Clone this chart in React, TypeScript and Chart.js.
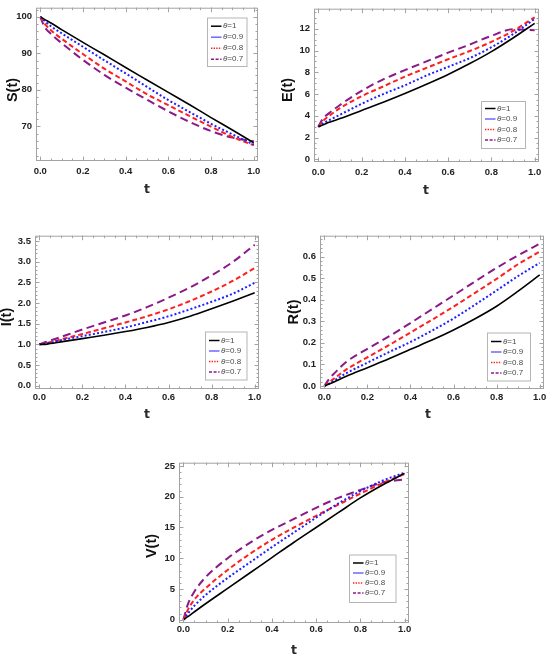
import React, { useEffect, useRef } from "react";
import { Chart, registerables } from "chart.js";

Chart.register(...registerables);

// time grid shared by every panel
const tValues = [0, 0.02, 0.05, 0.1, 0.2, 0.3, 0.4, 0.5, 0.6, 0.7, 0.8, 0.9, 1.0];
const thetaLabels = ["1", "0.9", "0.8", "0.7"];
const xTicks = [0, 0.2, 0.4, 0.6, 0.8, 1.0];

// S(t)
const sTheta1 = [100, 99.3, 98.3, 96.5, 93.0, 89.6, 86.1, 82.7, 79.3, 75.9, 72.4, 69.0, 65.5];
const sTheta09 = [100, 98.9, 97.4, 95.5, 91.8, 88.1, 84.5, 80.8, 77.2, 73.9, 70.7, 67.8, 65.0];
const sTheta08 = [100, 98.2, 96.3, 94.0, 89.8, 85.8, 82.3, 78.8, 75.8, 72.8, 69.9, 67.1, 64.8];
const sTheta07 = [100, 97.3, 95.3, 92.8, 88.2, 84.1, 80.6, 77.3, 74.1, 71.2, 68.7, 66.9, 65.9];
const sTicks = [70, 80, 90, 100];

// E(t)
const eTheta1 = [3, 3.15, 3.4, 3.75, 4.5, 5.25, 6.05, 6.9, 7.8, 8.8, 9.9, 11.15, 12.5];
const eTheta09 = [3, 3.3, 3.6, 4.1, 5.1, 6.0, 6.8, 7.7, 8.5, 9.3, 10.3, 11.5, 12.9];
const eTheta08 = [3, 3.5, 4.0, 4.7, 5.8, 6.7, 7.6, 8.4, 9.2, 9.95, 10.8, 11.8, 13.05];
const eTheta07 = [3, 3.7, 4.25, 5.0, 6.3, 7.35, 8.2, 9.0, 9.8, 10.55, 11.35, 11.95, 11.85];
const eTicks = [0, 2, 4, 6, 8, 10, 12];

// I(t)
const iTheta1 = [1, 1.0, 1.02, 1.06, 1.14, 1.22, 1.31, 1.41, 1.53, 1.68, 1.86, 2.05, 2.25];
const iTheta09 = [1, 1.01, 1.04, 1.1, 1.2, 1.3, 1.41, 1.54, 1.68, 1.85, 2.03, 2.23, 2.49];
const iTheta08 = [1, 1.02, 1.05, 1.12, 1.25, 1.39, 1.53, 1.68, 1.85, 2.05, 2.28, 2.54, 2.85];
const iTheta07 = [1, 1.04, 1.09, 1.18, 1.36, 1.53, 1.7, 1.9, 2.13, 2.38, 2.67, 3.0, 3.41];
const iTicks = [0, 0.5, 1, 1.5, 2, 2.5, 3, 3.5];

// R(t)
const rTheta1 = [0, 0.008, 0.021, 0.044, 0.085, 0.126, 0.17, 0.213, 0.26, 0.312, 0.37, 0.44, 0.515];
const rTheta09 = [0, 0.01, 0.027, 0.058, 0.108, 0.157, 0.204, 0.257, 0.313, 0.377, 0.443, 0.51, 0.571];
const rTheta08 = [0, 0.016, 0.038, 0.075, 0.133, 0.189, 0.248, 0.307, 0.368, 0.432, 0.497, 0.565, 0.623];
const rTheta07 = [0, 0.03, 0.062, 0.11, 0.172, 0.23, 0.292, 0.356, 0.42, 0.485, 0.548, 0.606, 0.66];
const rTicks = [0, 0.1, 0.2, 0.3, 0.4, 0.5, 0.6];

// V(t)
const vTheta1 = [0, 0.5, 1.3, 2.6, 5.1, 7.6, 10.1, 12.6, 15.0, 17.4, 19.8, 21.9, 23.8];
const vTheta09 = [0, 1.0, 2.3, 4.0, 6.8, 9.3, 11.8, 14.2, 16.6, 18.9, 20.9, 22.6, 23.9];
const vTheta08 = [0, 1.6, 3.3, 5.1, 8.1, 10.7, 13.0, 15.0, 16.9, 18.7, 20.5, 22.2, 23.7];
const vTheta07 = [0, 2.5, 4.6, 6.9, 10.0, 12.5, 14.6, 16.4, 18.2, 19.8, 21.1, 22.3, 22.8];
const vTicks = [0, 5, 10, 15, 20, 25];

const lineColors = ["#000000", "#1f1fff", "#ff1f1f", "#8a1a8a"];
const lineWidths = [1.6, 2, 2, 2];
const lineDashes = [[], [2, 2.2], [5, 3], [8, 4.5]];
const legendColors = ["#000000", "rgba(40,40,255,0.75)", "#ff1f1f", "#8a1a8a"];
const legendDashes = [[], [], [1.4, 1.2], [3, 1.6]];

const FONT = "'Liberation Sans', Arial, sans-serif";
const Y_AXIS_W = 38;
const PAD = 8;
const X_AXIS_H = 36;

type Box = { l: number; t: number; r: number; b: number };

interface PanelConfig {
    id: string;
    yTitle: string;
    series: number[][];
    yMin: number;
    yMax: number;
    yTicks: number[];
    yDecimals: number;
    yMinor: number;
    frame: Box;
    yTitlePos: [number, number];
    xTitlePos: [number, number];
    xLabelPad: number;
    legend: Box;
    legendRows: number[];
}

const panels: PanelConfig[] = [
    {
        id: "s", yTitle: "S(t)", series: [sTheta1, sTheta09, sTheta08, sTheta07],
        yMin: 60.5, yMax: 102.5, yTicks: sTicks, yDecimals: 0, yMinor: 2,
        frame: { l: 36, t: 6, r: 258, b: 161 }, yTitlePos: [13, 90], xTitlePos: [147, 190], xLabelPad: 5,
        legend: { l: 207.5, t: 18, r: 247, b: 66.5 }, legendRows: [26.2, 37.2, 48.2, 59.2],
    },
    {
        id: "e", yTitle: "E(t)", series: [eTheta1, eTheta09, eTheta08, eTheta07],
        yMin: -0.24, yMax: 13.84, yTicks: eTicks, yDecimals: 0, yMinor: 0.5,
        frame: { l: 314, t: 7, r: 539, b: 162 }, yTitlePos: [288, 90], xTitlePos: [426, 191], xLabelPad: 4.5,
        legend: { l: 481.5, t: 101.5, r: 525.5, b: 148.5 }, legendRows: [108.5, 119, 129.5, 140],
    },
    {
        id: "i", yTitle: "I(t)", series: [iTheta1, iTheta09, iTheta08, iTheta07],
        yMin: -0.08, yMax: 3.63, yTicks: iTicks, yDecimals: 1, yMinor: 0.1,
        frame: { l: 35, t: 234, r: 259, b: 389 }, yTitlePos: [7, 317], xTitlePos: [147, 415], xLabelPad: 2.5,
        legend: { l: 205.5, t: 332, r: 247, b: 380 }, legendRows: [340.5, 351, 361.5, 372],
    },
    {
        id: "r", yTitle: "R(t)", series: [rTheta1, rTheta09, rTheta08, rTheta07],
        yMin: -0.014, yMax: 0.697, yTicks: rTicks, yDecimals: 1, yMinor: 0.02,
        frame: { l: 320, t: 234, r: 544, b: 389 }, yTitlePos: [294, 312], xTitlePos: [428, 415], xLabelPad: 3,
        legend: { l: 487.5, t: 333, r: 530.5, b: 381 }, legendRows: [341.5, 352, 362.5, 373],
    },
    {
        id: "v", yTitle: "V(t)", series: [vTheta1, vTheta09, vTheta08, vTheta07],
        yMin: -0.53, yMax: 25.53, yTicks: vTicks, yDecimals: 0, yMinor: 1,
        frame: { l: 179, t: 461, r: 409, b: 623 }, yTitlePos: [152, 546], xTitlePos: [294, 651], xLabelPad: 0.5,
        legend: { l: 349.5, t: 555, r: 396, b: 602.5 }, legendRows: [563, 573, 583, 593],
    },
];

const Panel = ({ cfg }: { cfg: PanelConfig }) => {
    const canvasRef = useRef<HTMLCanvasElement | null>(null);
    const left = cfg.frame.l - Y_AXIS_W;
    const top = cfg.frame.t - PAD;
    const width = cfg.frame.r - cfg.frame.l + Y_AXIS_W + PAD;
    const height = cfg.frame.b - cfg.frame.t + PAD + X_AXIS_H;

    useEffect(() => {
        const ctx = canvasRef.current?.getContext("2d");
        if (!ctx) return;

        const framePlugin = {
            id: "mmaFrame",
            afterDraw(chart: any) {
                const c = chart.ctx as CanvasRenderingContext2D;
                const a = chart.chartArea;
                const xs = chart.scales.x;
                const ys = chart.scales.y;
                const seg = (x1: number, y1: number, x2: number, y2: number) => {
                    c.beginPath();
                    c.moveTo(x1, y1);
                    c.lineTo(x2, y2);
                    c.stroke();
                };
                c.save();
                c.strokeStyle = "#a3a3a3";
                c.lineWidth = 1;
                c.setLineDash([]);
                c.strokeRect(a.left + 0.5, a.top + 0.5, a.right - a.left - 1, a.bottom - a.top - 1);

                // inward ticks on all four sides
                const xTick = (v: number, len: number) => {
                    const px = Math.round(xs.getPixelForValue(v)) + 0.5;
                    seg(px, a.bottom, px, a.bottom - len);
                    seg(px, a.top, px, a.top + len);
                };
                const yTick = (v: number, len: number) => {
                    const py = Math.round(ys.getPixelForValue(v)) + 0.5;
                    seg(a.left, py, a.left + len, py);
                    seg(a.right, py, a.right - len, py);
                };
                for (let k = Math.ceil(-0.02 / 0.05); k * 0.05 <= 1.02; k++) xTick(k * 0.05, 2.5);
                xTicks.forEach((v) => xTick(v, 4.5));
                for (let k = Math.ceil(cfg.yMin / cfg.yMinor); k * cfg.yMinor <= cfg.yMax; k++) yTick(k * cfg.yMinor, 2.5);
                cfg.yTicks.forEach((v) => yTick(v, 4.5));

                // legend
                const lb = cfg.legend;
                const bx = lb.l - left;
                const by = lb.t - top;
                c.fillStyle = "#ffffff";
                c.fillRect(bx, by, lb.r - lb.l, lb.b - lb.t);
                c.strokeStyle = "#b5b5b5";
                c.strokeRect(bx, by, lb.r - lb.l, lb.b - lb.t);
                c.textBaseline = "middle";
                c.textAlign = "left";
                cfg.legendRows.forEach((ry, i) => {
                    const y = ry - top;
                    c.strokeStyle = legendColors[i];
                    c.lineWidth = i === 0 ? 1.5 : 1.4;
                    c.setLineDash(legendDashes[i]);
                    seg(bx + 3.5, y, bx + 14, y);
                    c.setLineDash([]);
                    c.fillStyle = "#4a4a4a";
                    c.font = `italic 8px ${FONT}`;
                    c.fillText("θ", bx + 15.5, y);
                    const w = c.measureText("θ").width;
                    c.font = `8px ${FONT}`;
                    c.fillText("=" + thetaLabels[i], bx + 15.5 + w, y);
                });

                // axis titles
                c.fillStyle = "#111111";
                c.textAlign = "center";
                c.textBaseline = "middle";
                c.save();
                c.translate(cfg.yTitlePos[0] - left, cfg.yTitlePos[1] - top);
                c.rotate(-Math.PI / 2);
                c.font = `bold 14.5px ${FONT}`;
                c.fillText(cfg.yTitle, 0, 0);
                c.restore();
                c.font = "bold 12.5px 'DejaVu Sans', sans-serif";
                c.fillStyle = "#2a2a2a";
                c.fillText("t", cfg.xTitlePos[0] - left, cfg.xTitlePos[1] - top);
                c.restore();
            },
        };

        const tickFont = { family: FONT, size: 9.5, weight: "bold" as const };

        const chart = new Chart(ctx, {
            type: "line",
            data: {
                datasets: cfg.series.map((vals, i) => ({
                    label: "θ=" + thetaLabels[i],
                    data: tValues.map((t, k) => ({ x: t, y: vals[k] })),
                    borderColor: lineColors[i],
                    borderWidth: lineWidths[i],
                    borderDash: lineDashes[i],
                    borderCapStyle: "butt" as const,
                    pointRadius: 0,
                    fill: false,
                    cubicInterpolationMode: "monotone" as const,
                })),
            },
            options: {
                responsive: false,
                animation: false,
                events: [],
                layout: { padding: { top: PAD, right: PAD, left: 0, bottom: 0 } },
                plugins: { legend: { display: false }, tooltip: { enabled: false } },
                scales: {
                    x: {
                        type: "linear",
                        min: -0.02,
                        max: 1.02,
                        grid: { display: false, drawTicks: false },
                        border: { display: false },
                        afterBuildTicks: (s: any) => {
                            s.ticks = xTicks.map((v) => ({ value: v }));
                        },
                        afterFit: (s: any) => {
                            s.height = X_AXIS_H;
                        },
                        ticks: {
                            padding: cfg.xLabelPad,
                            autoSkip: false,
                            maxRotation: 0,
                            color: "#222222",
                            font: tickFont,
                            callback: (v: any) => Number(v).toFixed(1),
                        },
                    },
                    y: {
                        type: "linear",
                        min: cfg.yMin,
                        max: cfg.yMax,
                        grid: { display: false, drawTicks: false },
                        border: { display: false },
                        afterBuildTicks: (s: any) => {
                            s.ticks = cfg.yTicks.map((v) => ({ value: v }));
                        },
                        afterFit: (s: any) => {
                            s.width = Y_AXIS_W;
                        },
                        ticks: {
                            padding: 4,
                            autoSkip: false,
                            color: "#222222",
                            font: tickFont,
                            callback: (v: any) => Number(v).toFixed(cfg.yDecimals),
                        },
                    },
                },
            },
            plugins: [framePlugin],
        });

        return () => {
            chart.destroy();
        };
    }, []);

    return (
        <canvas
            ref={canvasRef}
            id={"panel-" + cfg.id}
            width={width}
            height={height}
            style={{ position: "absolute", left, top, width, height }}
        />
    );
};

const App = () => {
    return (
        <div
            style={{
                position: "absolute",
                left: 0,
                top: 0,
                width: 550,
                height: 659,
                background: "#ffffff",
                overflow: "hidden",
            }}
        >
            {panels.map((p) => (
                <Panel key={p.id} cfg={p} />
            ))}
        </div>
    );
};

export default App;
